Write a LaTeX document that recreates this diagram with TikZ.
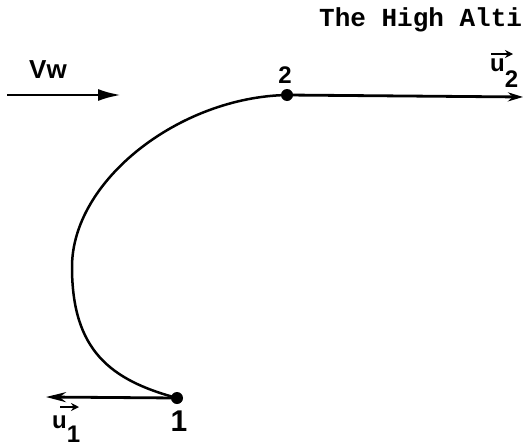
\documentclass[tikz,border=0pt]{standalone}
\usepackage{fontspec}
\setsansfont{Liberation Sans}
\setmonofont{Liberation Mono}
\usetikzlibrary{arrows.meta}
\begin{document}
\begin{tikzpicture}[x=1pt,y=-1pt,
  mainline/.style={line width=2.8pt},
  curveline/.style={line width=2.5pt},
  dotnode/.style={circle,fill=black,inner sep=0pt,minimum size=12pt},
  lbl/.style={font=\sffamily\bfseries\fontsize{24}{24}\selectfont,inner sep=0pt},
  vecarrow/.style={line width=2.4pt,-{Stealth[length=8pt,width=8pt]}}
]
\useasboundingbox (0,0) rectangle (524,447);
% header
\node[anchor=base west,inner sep=0pt,font=\ttfamily\bfseries\fontsize{26}{26}\selectfont] (hdr) at (319,26) {The High Alti};
% wind arrow
\coordinate (vwA) at (7,95);
\coordinate (vwB) at (121,95);
\draw[mainline,-{Latex[length=23pt,width=12pt]}] (vwA) -- (vwB);
\node[lbl,font=\sffamily\bfseries\fontsize{26}{26}\selectfont] (vw) at (48,70) {Vw};
% points
\node[dotnode] (p2) at (287,95) {};
\node[dotnode] (p1) at (177,398) {};
\node[lbl] (lab2) at (285,75) {2};
\node[lbl,font=\sffamily\bfseries\fontsize{30}{30}\selectfont] (lab1) at (179,421) {1};
% path
\coordinate (lft) at (72,267);
\draw[curveline] (p2.center) .. controls (180,97) and (72,180) .. (lft)
                 .. controls (72,350) and (110,380) .. (p1.center);
% velocity vectors
\coordinate (u2end) at (523,97);
\draw[mainline,-{Stealth[length=15pt,width=9pt]}] (p2.center) -- (u2end);
\coordinate (u1end) at (46,397);
\draw[mainline,-{Stealth[length=20pt,width=10pt]}] (p1.center) -- (u1end);
% u2 label
\node[lbl,anchor=base west] (u2lab) at (490,71) {u\raisebox{-16pt}{2}};
\coordinate (a2s) at (491,54);
\coordinate (a2e) at (513,54);
\draw[vecarrow] (a2s) -- (a2e);
% u1 label
\node[lbl,anchor=base west] (u1lab) at (52,428) {u\raisebox{-14pt}{1}};
\coordinate (a1s) at (60,407);
\coordinate (a1e) at (79,407);
\draw[vecarrow] (a1s) -- (a1e);
\end{tikzpicture}
\end{document}
